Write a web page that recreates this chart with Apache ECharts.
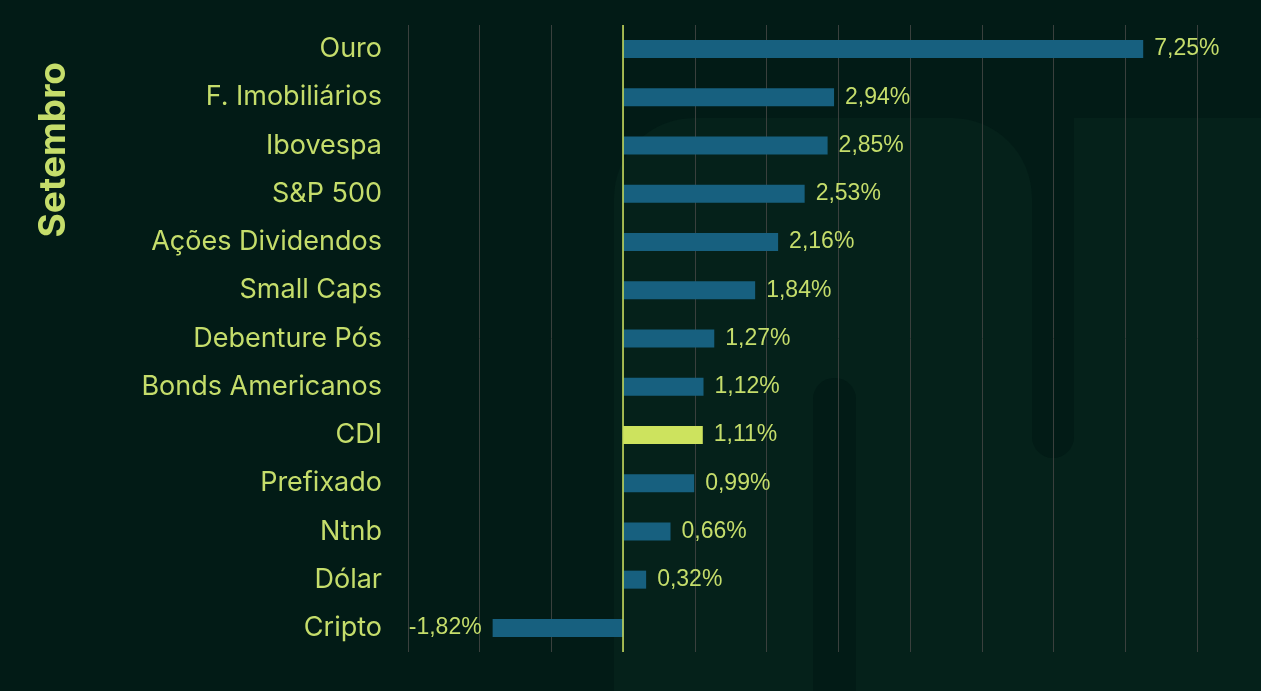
<!DOCTYPE html>
<html>
<head>
<meta charset="utf-8">
<script src="https://cdn.jsdelivr.net/npm/echarts@6/dist/echarts.min.js"></script>
<style>
html,body{margin:0;padding:0;background:#021b16;}
#c{width:1261px;height:691px;}
</style>
</head>
<body>
<div id="c"></div>
<script>
var categories = ['Ouro','F. Imobiliários','Ibovespa','S&P 500','Ações Dividendos','Small Caps','Debenture Pós','Bonds Americanos','CDI','Prefixado','Ntnb','Dólar','Cripto'];
var values = [7.25, 2.94, 2.85, 2.53, 2.16, 1.84, 1.27, 1.12, 1.11, 0.99, 0.66, 0.32, -1.82];
var highlight = 'CDI';
var axisTitle = 'Setembro';

var BG = '#021b16', LIGHT = '#05211a', TXT = '#c5dd6b', BAR = '#17607f', HI = '#cde35e';

var chart = echarts.init(document.getElementById('c'));
chart.setOption({
  backgroundColor: BG,
  animation: false,
  graphic: [
    {type:'rect', z:-10, silent:true, shape:{x:614,y:118,width:418,height:600,r:[80,80,0,0]}, style:{fill:LIGHT}},
    {type:'rect', z:-10, silent:true, shape:{x:1074,y:118,width:200,height:600}, style:{fill:LIGHT}},
    {type:'rect', z:-10, silent:true, shape:{x:1030,y:420,width:46,height:300}, style:{fill:LIGHT}},
    {type:'rect', z:-9, silent:true, shape:{x:1032,y:380,width:42,height:78,r:[0,0,21,21]}, style:{fill:BG}},
    {type:'rect', z:-9, silent:true, shape:{x:813,y:378,width:43,height:340,r:[21,21,0,0]}, style:{fill:BG}},
    {type:'text', left:35, top:62, rotation:Math.PI/2, style:{text:axisTitle, fill:TXT, font:'bold 37px Inter, "Noto Sans", sans-serif', textAlign:'right', textVerticalAlign:'top'}}
  ],
  grid: {left:408, right:64, top:25, bottom:39},
  xAxis: {
    type:'value', min:-3, max:8, interval:1,
    axisLabel:{show:false}, axisLine:{show:false}, axisTick:{show:false},
    splitLine:{show:true, lineStyle:{color:'#3a403d', width:1}}
  },
  yAxis: {
    type:'category', data:categories, inverse:true,
    axisLine:{show:false}, axisTick:{show:false},
    axisLabel:{color:TXT, fontSize:27, fontFamily:'Inter, "Noto Sans", sans-serif', margin:26}
  },
  series: [{
    type:'bar',
    barWidth:18,
    data: values.map(function(v,i){
      return {
        value:v,
        itemStyle:{color: categories[i]===highlight ? HI : BAR},
        label:{position: v<0 ? 'left' : 'right'}
      };
    }),
    label:{
      show:true, distance:11, color:TXT, fontSize:23,
      fontFamily:'"Liberation Sans", Arial, sans-serif',
      formatter:function(p){ return p.value.toFixed(2).replace('.',',') + '%'; }
    },
    markLine:{
      silent:true, symbol:'none', label:{show:false},
      lineStyle:{color:HI, width:1.5, type:'solid'},
      data:[{xAxis:0}]
    }
  }]
});
</script>
</body>
</html>
